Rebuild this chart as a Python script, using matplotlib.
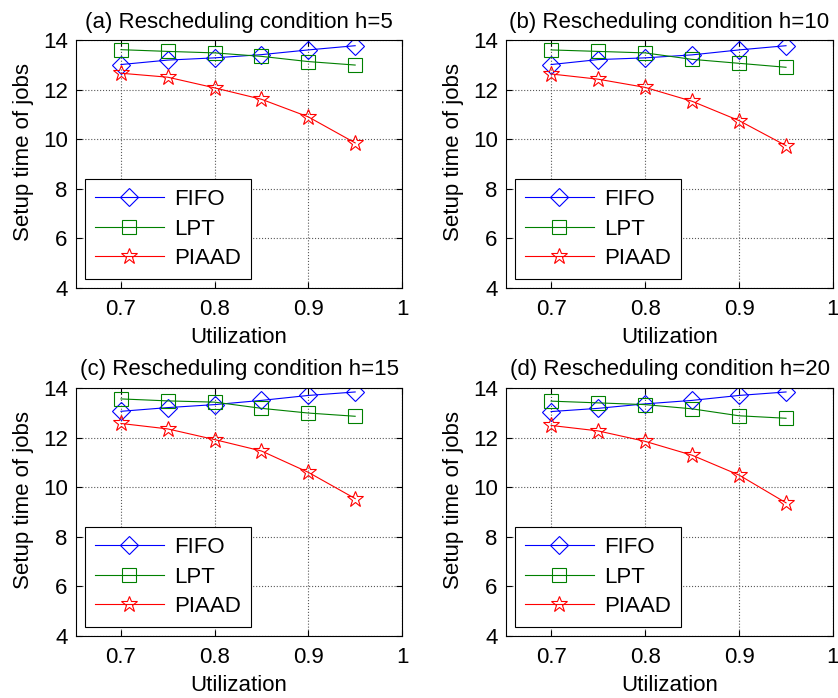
import matplotlib
matplotlib.use("Agg")
import matplotlib.pyplot as plt

plt.rcParams["font.family"] = ["Liberation Sans", "DejaVu Sans"]

utilization = [0.7, 0.75, 0.8, 0.85, 0.9, 0.95]
horizons = [5, 10, 15, 20]
panel_tags = ["(a)", "(b)", "(c)", "(d)"]

fifo = [
    [13.01, 13.19, 13.28, 13.41, 13.60, 13.77],
    [13.01, 13.21, 13.28, 13.40, 13.60, 13.77],
    [13.06, 13.21, 13.33, 13.50, 13.70, 13.84],
    [13.05, 13.18, 13.36, 13.50, 13.70, 13.84],
]
lpt = [
    [13.61, 13.54, 13.48, 13.34, 13.13, 12.99],
    [13.60, 13.54, 13.48, 13.22, 13.06, 12.90],
    [13.56, 13.48, 13.43, 13.18, 12.99, 12.86],
    [13.47, 13.40, 13.33, 13.16, 12.88, 12.78],
]
piaad = [
    [12.66, 12.50, 12.07, 11.61, 10.90, 9.85],
    [12.63, 12.42, 12.09, 11.53, 10.75, 9.74],
    [12.57, 12.35, 11.92, 11.46, 10.60, 9.54],
    [12.49, 12.27, 11.85, 11.29, 10.49, 9.37],
]

W, H = 838, 698
fig = plt.figure(figsize=(W / 100, H / 100), dpi=100)

# axes boxes in pixels: left, top, right, bottom
boxes = [(76, 40, 402, 288), (506, 40, 833, 288),
         (76, 388, 402, 636), (506, 388, 833, 636)]

for i, (l, t, r, b) in enumerate(boxes):
    ax = fig.add_axes([l / W, 1 - b / H, (r - l) / W, (b - t) / H])
    ax.plot(utilization, fifo[i], color="blue", lw=0.8, marker="D", ms=9.5,
            mfc="none", mec="blue", mew=0.8, label="FIFO")
    ax.plot(utilization, lpt[i], color="#008000", lw=0.8, marker="s", ms=10,
            mfc="none", mec="#008000", mew=0.8, label="LPT")
    ax.plot(utilization, piaad[i], color="red", lw=0.8, marker="*", ms=12,
            mfc="none", mec="red", mew=0.8, label="PIAAD")
    ax.set_xlim(0.652, 1.0)
    ax.set_ylim(4, 14)
    ax.set_xticks([0.7, 0.8, 0.9, 1.0])
    ax.set_xticklabels(["0.7", "0.8", "0.9", "1"])
    ax.set_yticks([4, 6, 8, 10, 12, 14])
    ax.tick_params(direction="in", top=True, right=True, labelsize=16, length=4)
    ax.tick_params(axis="x", pad=8)
    ax.tick_params(axis="y", pad=6)
    ax.grid(True, linestyle=":", color="0.35", lw=0.8)
    ax.set_xlabel("Utilization", fontsize=16, labelpad=5)
    ax.set_ylabel("Setup time of jobs", fontsize=16)
    ax.yaxis.set_label_coords(-0.129, 0.548)
    ax.set_title(f"{panel_tags[i]} Rescheduling condition h={horizons[i]}",
                 fontsize=16, pad=9)
    leg = ax.legend(loc="lower left", fontsize=16, handlelength=3.1,
                    handletextpad=0.45, fancybox=False, edgecolor="black",
                    framealpha=1, borderaxespad=0.4, labelspacing=0.38,
                    borderpad=0.45)
    leg.get_frame().set_linewidth(0.8)

fig.savefig("out.png", dpi=100)
